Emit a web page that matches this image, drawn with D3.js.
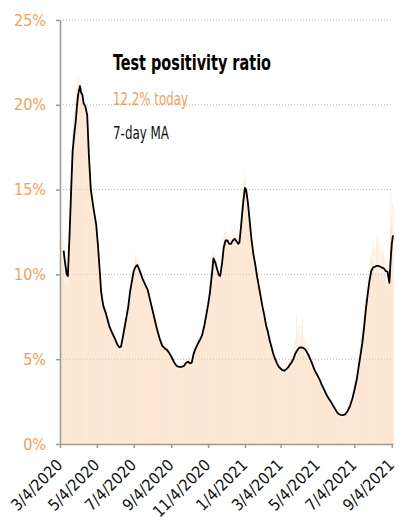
<!DOCTYPE html>
<html>
<head>
<meta charset="utf-8">
<script src="https://cdn.jsdelivr.net/npm/d3@7"></script>
<style>
  html, body { margin: 0; padding: 0; background: #fff; }
  svg { display: block; }
  text { font-family: "Liberation Sans Narrow", "DejaVu Sans Condensed", "Roboto Condensed", "Liberation Sans", sans-serif; }
</style>
</head>
<body>
<svg id="chart" width="409" height="521"></svg>
<script>
// ---------------- DATA ----------------
const startDate = "2020-03-04";
// daily test positivity (%), one value per day from 3/4/2020
const dailyValues = [
  14.5, 9.2, 11.8, 12.6, 10.4, 11.0, 12.1, 10.2, 9.6, 10.9, 9.4, 10.1, 9.8, 9.3,
  10.8, 12.4, 13.9, 15.2, 16.1, 17.4, 18.6, 18.2, 19.5, 19.1, 20.3, 19.8, 20.6, 21.0,
  21.4, 20.9, 21.6, 21.2, 20.8, 21.5, 20.7, 21.3, 20.4, 20.8, 20.2, 20.6, 19.9, 20.3,
  19.6, 20.1, 19.2, 19.4, 18.1, 17.2, 16.6, 15.9, 15.4, 14.8, 14.6, 14.1, 13.8, 13.5,
  13.6, 13.1, 12.9, 13.2, 12.6, 12.0, 11.4, 11.0, 10.6, 10.2, 9.8, 9.4, 9.0, 8.9,
  8.6, 8.2, 8.3, 7.9, 8.1, 7.6, 7.8, 7.3, 7.5, 7.0, 7.2, 6.8, 7.1, 6.6,
  6.9, 6.4, 6.6, 6.3, 6.5, 6.0, 6.2, 5.9, 6.1, 5.7, 6.0, 5.6, 5.9, 5.5,
  5.8, 5.6, 5.9, 6.0, 6.3, 6.6, 6.8, 7.0, 7.4, 7.1, 7.6, 7.9, 8.0, 8.3,
  8.1, 8.6, 8.9, 9.2, 9.0, 9.6, 9.9, 10.1, 9.8, 10.4, 10.6, 10.3, 10.9, 11.2,
  10.7, 11.0, 10.4, 10.8, 10.2, 10.5, 9.9, 10.3, 9.7, 10.1, 9.6, 9.9, 9.4, 9.8,
  9.3, 9.6, 9.0, 9.4, 8.9, 9.2, 8.6, 8.9, 8.3, 8.7, 8.0, 8.4, 7.8, 8.1,
  7.5, 7.8, 7.2, 7.4, 6.9, 7.1, 6.6, 6.9, 6.3, 6.6, 6.1, 6.4, 5.9, 6.2,
  5.7, 6.0, 5.6, 5.8, 5.5, 5.9, 5.4, 5.7, 5.5, 5.8, 5.3, 5.6, 5.2, 5.5,
  5.1, 5.4, 4.9, 5.2, 4.8, 5.0, 4.6, 4.9, 4.5, 4.8, 4.4, 4.7, 4.4, 4.6,
  4.3, 4.7, 4.5, 4.8, 4.4, 4.6, 4.5, 4.9, 4.6, 4.8, 5.0, 4.7, 5.1, 4.9,
  5.0, 4.7, 5.2, 4.6, 4.9, 4.5, 4.8, 5.0, 4.7, 5.4, 5.6, 6.5, 5.5, 6.0,
  5.7, 6.1, 5.8, 6.3, 5.9, 6.4, 6.0, 6.3, 6.2, 6.6, 6.4, 6.9, 6.6, 7.2,
  7.0, 7.6, 7.3, 8.0, 7.8, 8.5, 8.3, 9.0, 8.8, 9.6, 9.4, 10.2, 10.1, 10.8,
  11.2, 11.0, 11.5, 10.9, 11.2, 10.5, 10.8, 10.1, 10.4, 9.7, 10.2, 9.6, 10.0, 10.4,
  10.6, 11.3, 11.0, 11.8, 12.2, 11.9, 12.6, 12.3, 12.0, 12.5, 12.2, 11.8, 12.4, 11.6,
  12.1, 11.5, 12.3, 11.7, 12.2, 12.6, 11.9, 12.4, 12.0, 12.8, 12.2, 11.7, 12.3, 11.6,
  11.9, 12.2, 11.5, 12.5, 13.1, 13.6, 14.0, 14.6, 15.2, 15.5, 15.0, 15.9, 15.3, 15.6,
  14.8, 15.1, 14.3, 14.0, 13.6, 13.2, 12.7, 12.4, 12.0, 11.6, 11.8, 11.1, 10.8, 11.0,
  10.5, 10.7, 10.2, 9.9, 10.1, 9.5, 9.2, 9.4, 8.9, 8.6, 8.8, 8.3, 8.0, 8.2,
  7.7, 7.9, 7.4, 7.1, 7.3, 6.8, 6.5, 6.8, 6.3, 6.5, 6.0, 6.3, 5.8, 6.1,
  5.6, 5.9, 5.3, 5.6, 5.0, 5.4, 4.8, 5.2, 4.6, 5.0, 4.5, 4.8, 4.3, 4.7,
  4.2, 4.6, 4.1, 4.7, 4.2, 4.5, 4.0, 4.8, 4.3, 4.6, 4.1, 4.9, 4.4, 4.7,
  4.4, 5.0, 4.6, 5.2, 4.7, 5.3, 4.9, 5.6, 5.1, 5.9, 5.3, 6.2, 5.5, 7.6,
  5.6, 6.6, 5.8, 6.9, 5.7, 6.5, 5.9, 7.0, 5.6, 7.5, 5.5, 6.4, 5.4, 6.2,
  5.3, 6.0, 5.1, 5.8, 4.9, 5.6, 4.8, 5.3, 4.6, 5.2, 4.5, 5.0, 4.3, 4.8,
  4.2, 4.6, 4.0, 4.4, 3.8, 4.3, 3.7, 4.1, 3.6, 3.9, 3.5, 3.8, 3.3, 3.6,
  3.1, 3.5, 3.0, 3.3, 2.9, 3.2, 2.7, 3.1, 2.6, 2.9, 2.5, 2.8, 2.4, 2.7,
  2.3, 2.6, 2.2, 2.4, 2.0, 2.3, 1.9, 2.2, 1.8, 2.0, 1.7, 1.9, 1.6, 1.9,
  1.6, 1.9, 1.5, 1.8, 1.6, 1.9, 1.5, 1.8, 1.7, 1.9, 1.8, 2.1, 1.9, 2.2,
  2.0, 2.3, 2.2, 2.6, 2.4, 2.8, 2.7, 3.1, 3.0, 3.4, 3.3, 3.8, 3.7, 4.2,
  4.0, 4.6, 4.5, 5.1, 5.0, 5.7, 5.6, 6.3, 6.2, 6.9, 6.8, 7.5, 7.4, 8.2,
  7.8, 8.6, 8.5, 9.3, 9.1, 9.9, 9.7, 10.5, 10.2, 11.0, 10.6, 11.3, 10.8, 11.6,
  10.3, 12.1, 10.2, 11.5, 10.0, 12.2, 10.4, 11.8, 9.9, 12.0, 10.1, 11.4, 9.8, 11.7,
  10.0, 11.2, 9.7, 11.5, 9.9, 11.0, 9.6, 10.8, 9.5, 10.6, 9.3, 10.4, 9.0, 9.6,
  12.8, 14.8, 13.5, 12.9, 14.2, 12.2
];
// 7-day moving average, read at these day offsets from 3/4/2020
const maDays = [
  6, 8, 11, 13, 16, 19, 21, 24, 26, 28, 30, 33, 35, 37, 39, 42, 45, 48, 51, 55,
  60, 63, 66, 68, 70, 72, 76, 79, 82, 87, 91, 95, 98, 101, 104, 107, 110, 113, 116, 119,
  122, 125, 128, 131, 134, 137, 141, 145, 149, 153, 157, 161, 165, 169, 173, 177, 181, 185, 189, 193,
  197, 201, 205, 209, 212, 215, 218, 221, 224, 228, 231, 235, 239, 242, 245, 248, 251, 254, 257, 260,
  263, 265, 268, 271, 274, 277, 280, 283, 286, 289, 292, 295, 297, 300, 303, 306, 308, 311, 314, 317,
  320, 323, 326, 329, 332, 335, 338, 341, 344, 347, 350, 353, 356, 359, 362, 365, 368, 371, 374, 377,
  380, 383, 386, 389, 392, 395, 398, 402, 405, 408, 411, 414, 417, 419, 422, 426, 430, 433, 437, 441,
  445, 449, 453, 457, 460, 464, 468, 472, 476, 480, 484, 488, 491, 494, 497, 500, 503, 506, 509, 512,
  515, 518, 521, 524, 527, 530, 533, 536, 539, 542, 545, 547, 549, 551
];
const maValues = [
  11.4, 10.8, 10.0, 9.9, 12.5, 15.5, 17.3, 18.4, 19.0, 19.9, 20.6, 21.1, 20.7, 20.6, 20.1, 19.9, 19.4, 16.9, 15.0, 14.0,
  12.9, 11.6, 10.1, 9.0, 8.5, 8.1, 7.7, 7.3, 6.9, 6.5, 6.2, 5.85, 5.7, 5.75, 6.3, 6.9, 7.5, 8.1, 9.0, 9.6,
  10.2, 10.45, 10.55, 10.3, 10.0, 9.7, 9.4, 9.1, 8.5, 7.9, 7.3, 6.7, 6.2, 5.8, 5.65, 5.55, 5.35, 5.1, 4.8, 4.6,
  4.55, 4.55, 4.6, 4.8, 4.85, 4.75, 4.8, 5.3, 5.6, 5.9, 6.1, 6.4, 7.0, 7.6, 8.2, 8.9, 9.9, 10.95, 10.7, 10.3,
  9.95, 9.9, 10.6, 11.6, 12.0, 12.0, 11.8, 11.8, 12.0, 12.1, 11.95, 11.8, 11.9, 13.0, 14.2, 15.1, 15.0, 14.2, 13.1, 12.0,
  11.2, 10.6, 9.9, 9.3, 8.7, 8.1, 7.6, 7.0, 6.6, 6.1, 5.7, 5.3, 5.0, 4.75, 4.55, 4.45, 4.35, 4.32, 4.4, 4.5,
  4.65, 4.8, 5.0, 5.3, 5.5, 5.65, 5.7, 5.68, 5.6, 5.45, 5.25, 5.0, 4.75, 4.56, 4.3, 4.05, 3.77, 3.5, 3.2, 2.9,
  2.65, 2.44, 2.2, 1.95, 1.8, 1.72, 1.7, 1.75, 1.95, 2.25, 2.7, 3.3, 3.8, 4.5, 5.2, 5.9, 6.8, 7.9, 8.8, 9.6,
  10.2, 10.4, 10.45, 10.5, 10.5, 10.45, 10.4, 10.35, 10.2, 10.15, 9.5, 10.8, 11.8, 12.3
];
const yTickValues = [0, 5, 10, 15, 20, 25];
const xTickLabels = ["3/4/2020", "5/4/2020", "7/4/2020", "9/4/2020", "11/4/2020",
                     "1/4/2021", "3/4/2021", "5/4/2021", "7/4/2021", "9/4/2021"];
const titleText = "Test positivity ratio";
const todayText = "12.2% today";
const maLabel = "7-day MA";

// ---------------- CHART ----------------
const svg = d3.select("#chart");
const orange = "#f5a05a";
const parseISO = d3.timeParse("%Y-%m-%d");
const parseTick = d3.timeParse("%-m/%-d/%Y");
const t0 = parseISO(startDate);
const dayAt = i => d3.timeDay.offset(t0, i);

const margin = { left: 60, right: 16, top: 20, bottom: 77 };
const W = 409, H = 521;
const x = d3.scaleTime()
  .domain([t0, dayAt(551)])
  .range([margin.left, W - margin.right]);
const y = d3.scaleLinear().domain([0, 25]).range([H - margin.bottom, margin.top]);

// gridlines (dotted)
svg.append("g")
  .selectAll("line")
  .data(yTickValues.filter(v => v > 0))
  .join("line")
  .attr("x1", x.range()[0]).attr("x2", x.range()[1])
  .attr("y1", d => y(d)).attr("y2", d => y(d))
  .attr("stroke", "#b5b5b5")
  .attr("stroke-width", 1)
  .attr("stroke-dasharray", "1,2");

// daily bars
const step = x(dayAt(1)) - x(dayAt(0));
svg.append("g")
  .selectAll("rect")
  .data(dailyValues)
  .join("rect")
  .attr("x", (d, i) => x(dayAt(i)))
  .attr("width", step * 0.8)
  .attr("y", d => y(d))
  .attr("height", d => y(0) - y(d))
  .attr("fill", "#fcd3ad")
  .attr("fill-opacity", 0.75);

// y axis
const yAxis = svg.append("g")
  .attr("transform", `translate(${margin.left},0)`)
  .call(d3.axisLeft(y).tickValues(yTickValues).tickFormat(d => d + "%").tickSize(4).tickSizeOuter(0));
yAxis.select(".domain").attr("stroke", "#999").attr("stroke-width", 1.5);
yAxis.selectAll(".tick line").attr("stroke", "#999").attr("stroke-width", 1.5);
yAxis.selectAll(".tick text")
  .attr("x", -14)
  .attr("fill", orange)
  .style("font-size", "16px");

// x axis
const xAxis = svg.append("g")
  .attr("transform", `translate(0,${y(0)})`)
  .call(d3.axisBottom(x).tickValues(xTickLabels.map(parseTick)).tickFormat(d3.timeFormat("%-m/%-d/%Y")).tickSize(4).tickSizeOuter(0));
xAxis.select(".domain").attr("stroke", "#999").attr("stroke-width", 1.5);
xAxis.selectAll(".tick line").attr("stroke", "#999").attr("stroke-width", 1.5);
xAxis.selectAll(".tick text")
  .attr("y", 0).attr("dy", 0)
  .attr("text-anchor", "end")
  .attr("transform", "translate(3,22) rotate(-45)")
  .attr("fill", "#111")
  .style("font-size", "16px");

// MA line
const line = d3.line()
  .x((d, i) => x(dayAt(maDays[i])))
  .y(d => y(d));
svg.append("path")
  .datum(maValues)
  .attr("d", line)
  .attr("fill", "none")
  .attr("stroke", "#000")
  .attr("stroke-width", 1.8)
  .attr("stroke-linejoin", "round");

// annotations
svg.append("text")
  .attr("x", 113).attr("y", 70)
  .attr("font-weight", "bold")
  .style("font-size", "22px")
  .attr("fill", "#000")
  .attr("textLength", 158).attr("lengthAdjust", "spacingAndGlyphs")
  .text(titleText);
svg.append("text")
  .attr("x", 113).attr("y", 105)
  .style("font-size", "17px")
  .attr("fill", orange)
  .attr("textLength", 75).attr("lengthAdjust", "spacingAndGlyphs")
  .text(todayText);
svg.append("text")
  .attr("x", 113).attr("y", 139)
  .style("font-size", "17px")
  .attr("fill", "#111")
  .attr("textLength", 56).attr("lengthAdjust", "spacingAndGlyphs")
  .text(maLabel);
</script>
</body>
</html>
